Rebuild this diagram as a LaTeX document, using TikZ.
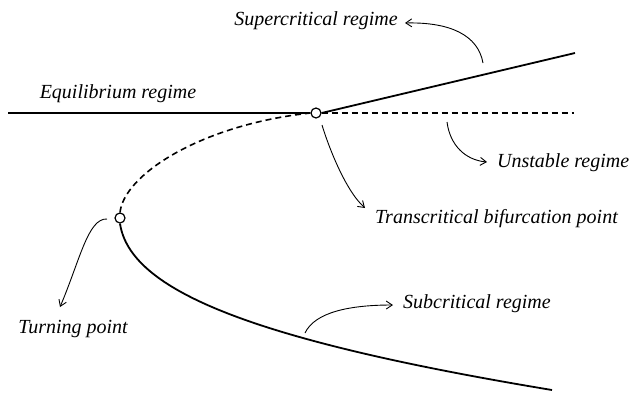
\documentclass[tikz,border=0pt]{standalone}
\usepackage{fontspec}
\setmainfont{Liberation Serif}
\usetikzlibrary{arrows.meta}
\begin{document}
\begin{tikzpicture}[x=1pt,y=-1pt,
  curve/.style={line width=1.8pt},
  dcurve/.style={line width=1.6pt,dash pattern=on 6pt off 4pt},
  pt/.style={circle,draw,line width=1.2pt,minimum size=10pt,inner sep=0pt},
  lbl/.style={font=\fontsize{20}{22}\selectfont\itshape,inner sep=0pt},
  ann/.style={line width=0.9pt,-{Straight Barb[length=6pt,width=8pt]}}]
\useasboundingbox (0,0) rectangle (629,397);
\node[pt] (B) at (316,113) {};
\node[pt] (T) at (120,218) {};
\coordinate (L) at (8,113);
\coordinate (SE) at (575,53);
\coordinate (DE) at (574,113);
\coordinate (LE) at (552,390);
\draw[curve] (L) -- (B.west);
\draw[curve] (B.east) -- (SE);
\draw[dcurve] (B.east) -- (DE);
\draw[dcurve] (T.north) .. controls (124,175) and (200,125) .. (B.west);
\draw[curve] (T.south) .. controls (130,290) and (250,340) .. (LE);
\node[lbl,anchor=base] (eq) at (118,98) {Equilibrium regime};
\node[lbl,anchor=base] (sup) at (316,25) {Supercritical regime};
\node[lbl,anchor=base west] (uns) at (497,167) {Unstable regime};
\node[lbl,anchor=base west] (tra) at (375,223) {Transcritical bifurcation point};
\node[lbl,anchor=base] (tur) at (73,333) {Turning point};
\node[lbl,anchor=base west] (sub) at (403,308) {Subcritical regime};
\coordinate (a1) at (483,63);
\coordinate (a1e) at (405,23);
\coordinate (a2) at (447,122);
\coordinate (a2e) at (487,162);
\coordinate (a3) at (322,125);
\coordinate (a3e) at (365,208);
\coordinate (a4) at (107,219);
\coordinate (a4e) at (60,307);
\coordinate (a5) at (305,333);
\coordinate (a5e) at (393,305);
\draw[ann] (a1) .. controls (478,35) and (450,22) .. (a1e);
\draw[ann] (a2) .. controls (450,145) and (465,160) .. (a2e);
\draw[ann] (a3) .. controls (328,145) and (345,190) .. (a3e);
\draw[ann] (a4) .. controls (88,218) and (80,260) .. (a4e);
\draw[ann] (a5) .. controls (315,312) and (350,305) .. (a5e);
\end{tikzpicture}
\end{document}
